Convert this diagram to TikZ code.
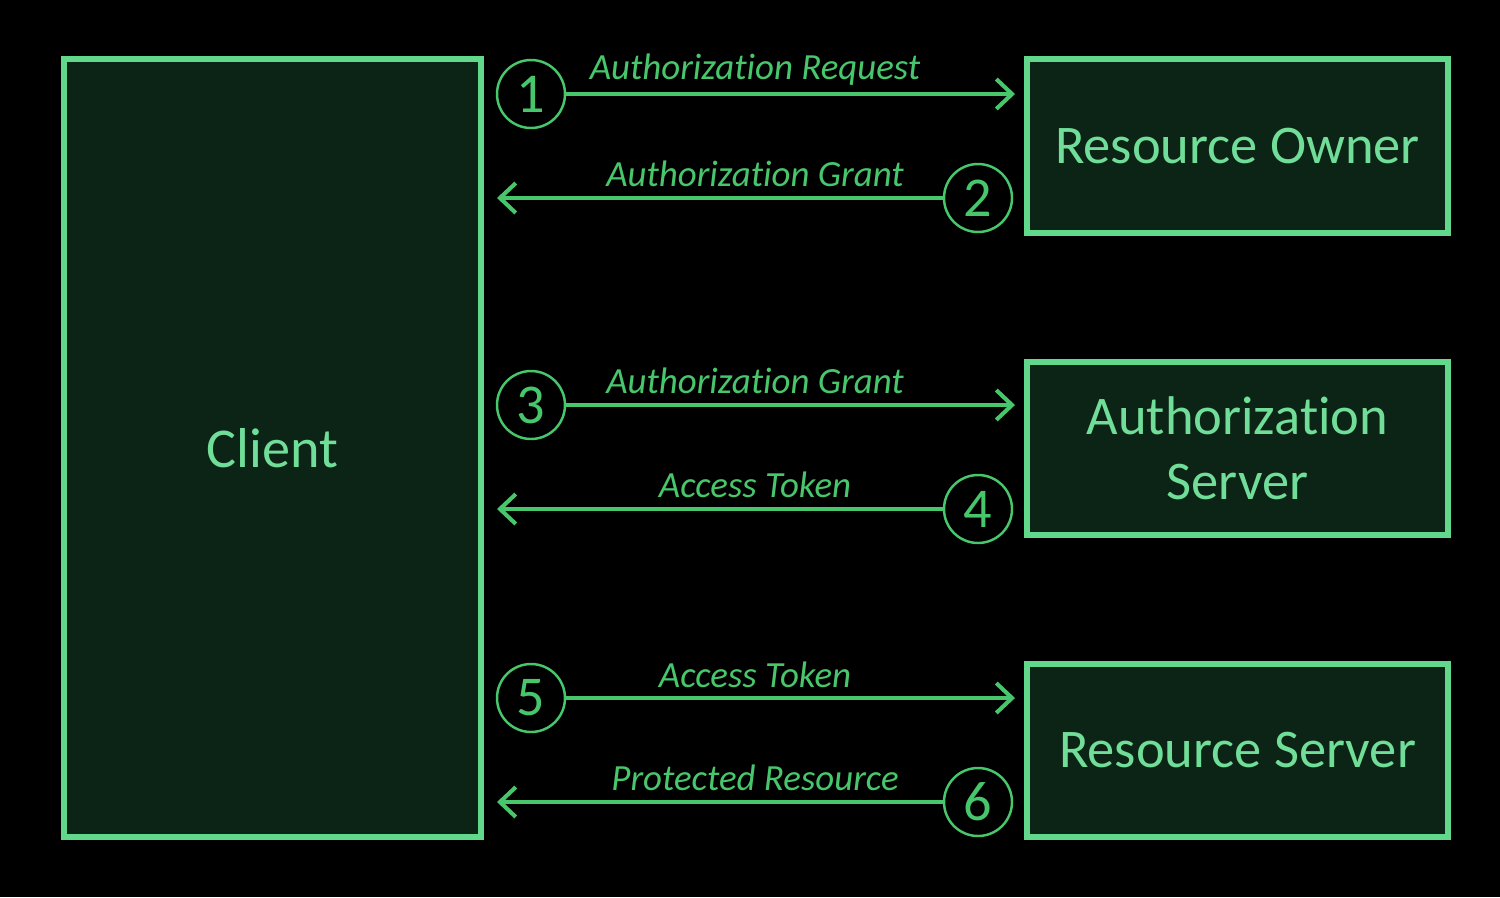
\documentclass[tikz,border=0pt]{standalone}
\usepackage{fontspec}
\setmainfont{Carlito}[Ligatures=NoCommon,RawFeature={-liga;-calt}]
\usetikzlibrary{arrows.meta}
\definecolor{boxline}{RGB}{98,216,140}
\definecolor{boxfill}{RGB}{12,36,21}
\definecolor{flow}{RGB}{72,198,108}
\definecolor{boxtext}{RGB}{112,222,152}
\begin{document}
\begin{tikzpicture}[x=0.02cm,y=-0.02cm,
  party/.style={draw=boxline,fill=boxfill,line width=3.2pt,text=boxtext,
    font=\fontsize{31}{36}\selectfont,align=center,inner sep=0pt},
  stepnum/.style={circle,draw=flow,line width=1.4pt,minimum size=1.36cm,inner sep=0pt,
    text=flow,font=\fontsize{32}{36}\selectfont},
  flowline/.style={draw=flow,line width=2.3pt,-{Straight Barb[length=9pt,width=17pt,line width=2.3pt]}},
  lab/.style={text=flow,font=\fontsize{21}{25}\selectfont\itshape,inner sep=0pt}]
\fill[black] (0,0) rectangle (1500,897);
\node[party,font=\fontsize{32}{36}\selectfont,minimum width=417*0.02cm,minimum height=778*0.02cm] (client) at (272.5,448) {Client};
\node[party,minimum width=421*0.02cm,minimum height=174*0.02cm] (ro) at (1237.5,146) {Resource Owner};
\node[party,minimum width=421*0.02cm,minimum height=173*0.02cm] (as) at (1237.5,448.5) {Authorization\\[1pt]Server};
\node[party,minimum width=421*0.02cm,minimum height=173*0.02cm] (rs) at (1237.5,750.5) {Resource Server};
\node[stepnum] (n1) at (531,94) {1};
\node[stepnum] (n2) at (978,198) {2};
\node[stepnum] (n3) at (531,405) {3};
\node[stepnum] (n4) at (978,509) {4};
\node[stepnum] (n5) at (531,698) {5};
\node[stepnum] (n6) at (978,802) {6};
\coordinate (e1) at (1015,94);
\coordinate (e2) at (497,198);
\coordinate (e3) at (1015,405);
\coordinate (e4) at (497,509);
\coordinate (e5) at (1015,698);
\coordinate (e6) at (497,802);
\draw[flowline] (n1) -- (e1);
\draw[flowline] (n2) -- (e2);
\draw[flowline] (n3) -- (e3);
\draw[flowline] (n4) -- (e4);
\draw[flowline] (n5) -- (e5);
\draw[flowline] (n6) -- (e6);
\node[lab] (l1) at (755,70) {Authorization Request};
\node[lab] (l2) at (755,174) {Authorization Grant};
\node[lab] (l3) at (755,381) {Authorization Grant};
\node[lab] (l4) at (755,485) {Access Token};
\node[lab] (l5) at (755,675) {Access Token};
\node[lab] (l6) at (755,778) {Protected Resource};
\end{tikzpicture}
\end{document}
